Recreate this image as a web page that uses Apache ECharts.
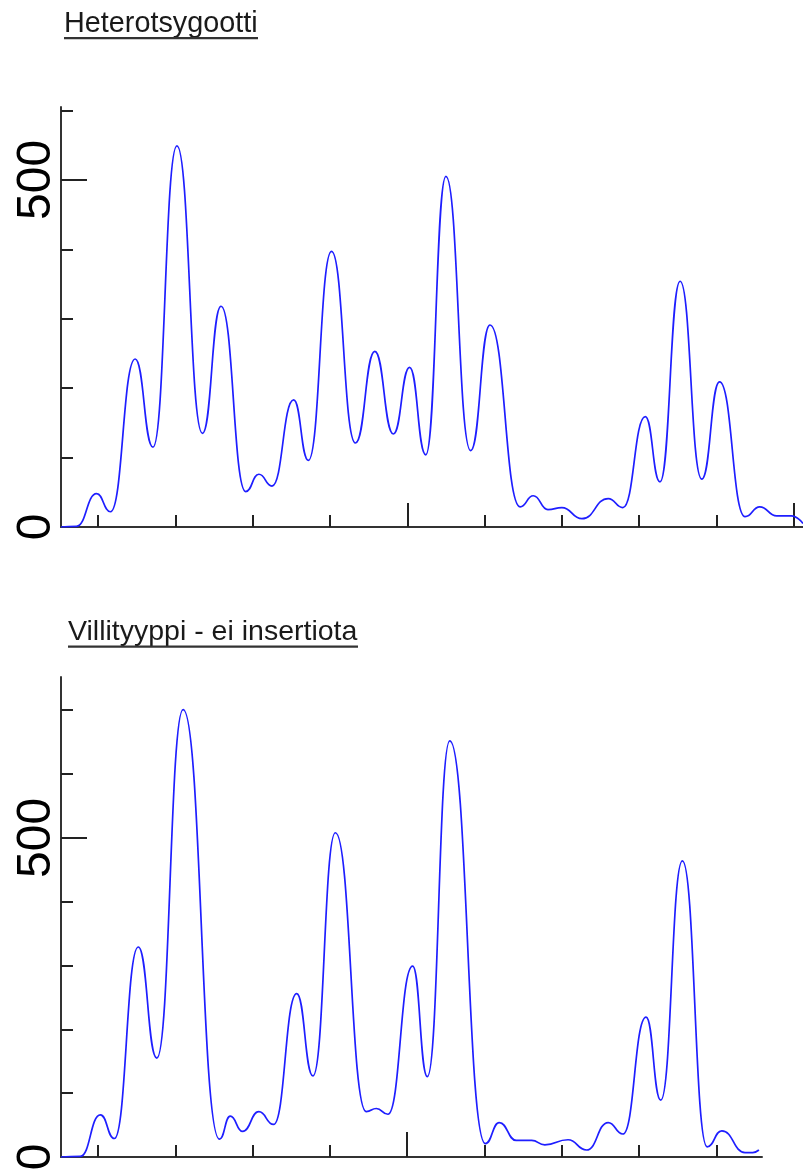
<!DOCTYPE html>
<html>
<head>
<meta charset="utf-8">
<title>Heterotsygootti / Villityyppi</title>
<script src="https://cdn.jsdelivr.net/npm/echarts@6/dist/echarts.min.js"></script>
<style>
  html, body { margin: 0; padding: 0; background: #fff; }
  #chart { width: 803px; height: 1171px; }
</style>
</head>
<body>
<div id="chart"></div>
<script>
// peaks and valleys of each trace
const heteroX = [5.2, 7.2, 9.8, 11.6, 14.8, 17.1, 20.2, 23.5, 25.9, 29.1, 30.8, 32.5, 35.3, 37.2, 40.2, 43.3, 45.8, 48.2, 50.3, 52.4,
                 55.0, 58.2, 60.7, 64.6, 66.3, 68.2, 70.0, 72.6, 76.0, 77.9, 80.8, 82.7, 85.3, 88.1, 90.4, 93.7, 95.6, 97.8, 99.7, 101.2];
const heteroY = [0, 1, 48, 22, 242, 115, 549, 135, 318, 51, 76, 59, 183, 96, 397, 121, 253, 134, 230, 104,
                 505, 110, 291, 29, 45, 25, 28, 12, 41, 28, 159, 65, 354, 69, 209, 15, 29, 16, 16, 5];

const wildX = [5.2, 7.7, 10.3, 12.1, 15.2, 17.6, 21.0, 25.7, 27.1, 28.7, 30.8, 32.7, 35.7, 37.8, 40.7, 44.7, 46.0, 47.5, 50.7, 52.6,
               55.5, 60.1, 61.9, 64.1, 66.1, 67.8, 70.8, 73.2, 76.0, 77.9, 80.9, 82.8, 85.6, 88.8, 90.7, 93.7, 94.7, 95.5];
const wildY = [0, 1, 66, 29, 329, 155, 701, 28, 64, 40, 71, 51, 256, 127, 508, 71, 76, 67, 299, 126,
               652, 21, 54, 26, 26, 19, 27, 11, 54, 36, 219, 89, 464, 16, 41, 7, 7, 11];

const titles = ['Heterotsygootti', 'Villityyppi - ei insertiota'];
const yLabelValues = [0, 500];
const yMajorTicks = [500];
const heteroYMinorTicks = [100, 200, 300, 400, 600];
const wildYMinorTicks = [100, 200, 300, 400, 600, 700];
const xMinorTicks = [10, 20, 30, 40, 60, 70, 80, 90];
const xMajorTicks = [50, 100];

const axisColor = '#333';
const tickColor = '#222';
const traceColor = '#1e1eff';
const font = '"Liberation Sans", Arial, sans-serif';

function zip(xs, ys) {
  return xs.map((x, i) => [x, ys[i]]);
}

function xAxis(gridIndex, max, ticks, len, showLine) {
  return {
    type: 'value',
    gridIndex: gridIndex,
    position: 'bottom',
    min: 5.2,
    max: max,
    axisLine: { show: showLine, onZero: false, lineStyle: { color: axisColor, width: 2 } },
    axisTick: { show: true, inside: true, length: len, customValues: ticks,
                lineStyle: { color: tickColor, width: 2 } },
    axisLabel: { show: false },
    splitLine: { show: false }
  };
}

function yAxis(gridIndex, max, ticks, len, showLine, showLabel) {
  return {
    type: 'value',
    gridIndex: gridIndex,
    position: 'left',
    min: 0,
    max: max,
    axisLine: { show: showLine, onZero: false, lineStyle: { color: axisColor, width: 2 } },
    axisTick: { show: true, inside: true, length: len, customValues: ticks,
                lineStyle: { color: tickColor, width: 2 } },
    axisLabel: {
      show: showLabel,
      customValues: yLabelValues,
      rotate: 90,
      margin: 0,
      color: '#000',
      fontSize: 48,
      fontFamily: font
    },
    splitLine: { show: false }
  };
}

const chart = echarts.init(document.getElementById('chart'));

const option = {
  animation: false,
  backgroundColor: '#fff',
  grid: [
    { left: 61, top: 107, right: 0, bottom: 644, outerBoundsMode: 'none' },
    { left: 61, top: 677, width: 701, bottom: 14, outerBoundsMode: 'none' }
  ],
  xAxis: [
    xAxis(0, 101.2, xMinorTicks, 12, true),
    xAxis(0, 101.2, xMajorTicks, 24, false),
    xAxis(1, 95.9, xMinorTicks, 12, true),
    xAxis(1, 95.9, xMajorTicks, 25, false)
  ],
  yAxis: [
    yAxis(0, 605, heteroYMinorTicks, 12, true, false),
    yAxis(0, 605, yMajorTicks, 26, false, true),
    yAxis(1, 752, wildYMinorTicks, 12, true, false),
    yAxis(1, 752, yMajorTicks, 26, false, true)
  ],
  graphic: [
    { type: 'text', x: 64, y: 24,
      style: { text: titles[0], fontSize: 28.8, fontFamily: font, fill: '#1a1a1a', align: 'left', verticalAlign: 'middle' } },
    { type: 'rect', shape: { x: 64, y: 37, width: 194, height: 2.3 }, style: { fill: '#333' } },
    { type: 'text', x: 68, y: 632.5,
      style: { text: titles[1], fontSize: 28.5, fontFamily: font, fill: '#1a1a1a', align: 'left', verticalAlign: 'middle' } },
    { type: 'rect', shape: { x: 68, y: 645.5, width: 290, height: 2.3 }, style: { fill: '#333' } }
  ],
  series: [
    {
      name: titles[0],
      type: 'line',
      xAxisIndex: 0,
      yAxisIndex: 0,
      data: zip(heteroX, heteroY),
      smooth: 0.5,
      smoothMonotone: 'x',
      showSymbol: false,
      lineStyle: { color: traceColor, width: 1.7 }
    },
    {
      name: titles[1],
      type: 'line',
      xAxisIndex: 2,
      yAxisIndex: 2,
      data: zip(wildX, wildY),
      smooth: 0.5,
      smoothMonotone: 'x',
      showSymbol: false,
      lineStyle: { color: traceColor, width: 1.7 }
    }
  ]
};

chart.setOption(option);
</script>
</body>
</html>
